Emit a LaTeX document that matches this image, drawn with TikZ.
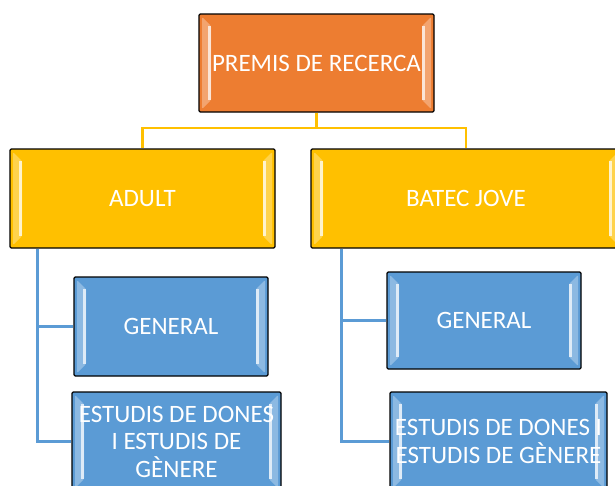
\documentclass[tikz,border=0pt]{standalone}
\usepackage{fontspec}
\setmainfont{Carlito}
\definecolor{orgc}{HTML}{ED7D31}
\definecolor{yelc}{HTML}{FFC000}
\definecolor{bluc}{HTML}{5B9BD5}
\definecolor{bline}{HTML}{5B9BD5}
\begin{document}
\begin{tikzpicture}[x=1pt,y=-1pt,
  bevelbox/.style={draw=black, line width=1.3pt, fill=#1, rounded corners=1.2pt,
    text=white, inner sep=0pt, align=center,
    font=\fontsize{25}{27.5}\selectfont,
    path picture={
      \fill[#1!70!white]
        ([xshift=3pt,yshift=-3pt]path picture bounding box.north west) --
        ([xshift=12pt,yshift=-12pt]path picture bounding box.north west) --
        ([xshift=12pt,yshift=12pt]path picture bounding box.south west) --
        ([xshift=3pt,yshift=3pt]path picture bounding box.south west) -- cycle;
      \draw[#1!20!white, line width=2.5pt]
        ([xshift=10.5pt,yshift=-12pt]path picture bounding box.north west) --
        ([xshift=10.5pt,yshift=12pt]path picture bounding box.south west);
      \fill[#1!70!white]
        ([xshift=-12pt,yshift=-12pt]path picture bounding box.north east) --
        ([xshift=-3pt,yshift=-3pt]path picture bounding box.north east) --
        ([xshift=-3pt,yshift=3pt]path picture bounding box.south east) --
        ([xshift=-12pt,yshift=12pt]path picture bounding box.south east) -- cycle;
      \draw[#1!20!white, line width=2.5pt]
        ([xshift=-10.5pt,yshift=-12pt]path picture bounding box.north east) --
        ([xshift=-10.5pt,yshift=12pt]path picture bounding box.south east);
    }},
  yline/.style={draw=yelc, line width=2.3pt},
  bline/.style={draw=bline, line width=2.7pt}]
\useasboundingbox (0,0) rectangle (615,485);

\node[bevelbox=orgc, minimum width=235pt, minimum height=98pt] (top) at (316.5,63) {PREMIS DE RECERCA};
\node[bevelbox=yelc, minimum width=265pt, minimum height=99pt] (adult) at (142.5,198.5) {ADULT};
\node[bevelbox=yelc, minimum width=310pt, minimum height=99pt] (batec) at (466,198.5) {BATEC JOVE};
\node[bevelbox=bluc, minimum width=194pt, minimum height=99pt] (lgen) at (171,326.5) {GENERAL};
\node[bevelbox=bluc, minimum width=209pt, minimum height=99pt] (lest) at (176.5,441.5) {ESTUDIS DE DONES\\I ESTUDIS DE\\GÈNERE};
\node[bevelbox=bluc, minimum width=194pt, minimum height=97pt] (rgen) at (484,320.5) {GENERAL};
\node[bevelbox=bluc, minimum width=217pt, minimum height=99pt] (rest) at (498.5,441.5) {ESTUDIS DE DONES I\\ESTUDIS DE GÈNERE};

\coordinate (ym) at (316.5,128);
\draw[yline] (top.south) -- (ym) -| (adult.north);
\draw[yline] (ym) -| (batec.north);

\coordinate (la) at ([xshift=28pt]adult.south west);
\draw[bline] (la) |- (lgen.west);
\draw[bline] (la) |- (lest.west);
\coordinate (ra) at ([xshift=31pt]batec.south west);
\draw[bline] (ra) |- (rgen.west);
\draw[bline] (ra) |- (rest.west);
\end{tikzpicture}
\end{document}
